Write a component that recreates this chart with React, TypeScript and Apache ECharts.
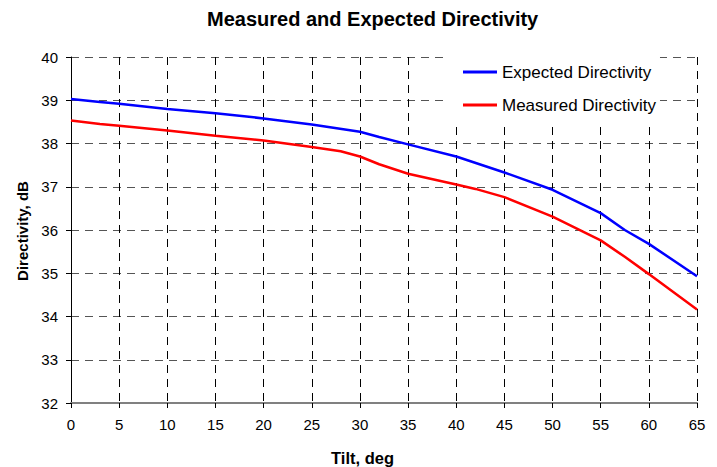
import React, { useEffect, useRef } from "react";
import * as echarts from "echarts";

const titleText = "Measured and Expected Directivity";
const xName = "Tilt, deg";
const yName = "Directivity, dB";

const expectedTilt = [0, 3, 5, 10, 15, 20, 25, 30, 32, 35, 40, 45, 50, 55, 57.5, 60, 65];
const expectedDir = [39.03, 38.96, 38.92, 38.8, 38.7, 38.58, 38.44, 38.27, 38.15, 37.98, 37.7, 37.33, 36.93, 36.39, 36.0, 35.68, 34.93];

const measuredTilt = [0, 3, 5, 10, 15, 20, 25, 28, 30, 32, 35, 40, 42, 45, 50, 55, 57.5, 60, 65];
const measuredDir = [38.53, 38.45, 38.41, 38.3, 38.18, 38.07, 37.92, 37.82, 37.7, 37.52, 37.3, 37.05, 36.95, 36.76, 36.31, 35.76, 35.38, 34.98, 34.16];

const FONT = "'Liberation Sans', Arial, sans-serif";

export default function App() {
  const ref = useRef<HTMLDivElement>(null);
  useEffect(() => {
    if (!ref.current) return;
    const chart = echarts.init(ref.current, null, { renderer: "svg" });
    chart.setOption({
      animation: false,
      backgroundColor: "#ffffff",
      textStyle: { fontFamily: FONT },
      grid: { left: 71, right: 20, top: 57, bottom: 64, containLabel: false },
      graphic: [
        {
          type: "text",
          left: 373 - 166,
          top: 9,
          style: { text: titleText, fontSize: 20, fontWeight: "bold", fill: "#000", fontFamily: FONT },
        },
        {
          type: "text",
          x: 362.5,
          y: 458,
          style: { text: xName, fontSize: 16.5, fontWeight: "bold", fill: "#000", fontFamily: FONT, align: "center", verticalAlign: "middle" },
        },
        {
          type: "text",
          x: 22.5,
          y: 231,
          rotation: Math.PI / 2,
          style: { text: yName, fontSize: 15, fontWeight: "bold", fill: "#000", fontFamily: FONT, align: "center", verticalAlign: "middle" },
        },
      ],
      legend: {
        orient: "vertical",
        left: 447,
        top: 57,
        padding: [5, 4, 8, 16],
        backgroundColor: "#ffffff",
        icon: "rect",
        itemWidth: 34,
        itemHeight: 3,
        itemGap: 13,
        textStyle: { fontSize: 17, color: "#000", fontFamily: FONT, lineHeight: 20 },
        data: ["Expected Directivity", "Measured Directivity"],
      },
      xAxis: {
        type: "value",
        min: 0,
        max: 65,
        interval: 5,
        axisLine: { show: true, onZero: false, lineStyle: { color: "#808080", width: 2 } },
        axisTick: { show: true, length: 5, lineStyle: { color: "#000" } },
        axisLabel: { fontSize: 15, color: "#000", margin: 14, fontFamily: FONT },
        splitLine: { show: true, lineStyle: { color: "#000", type: [8, 6], width: 1 } },
      },
      yAxis: {
        type: "value",
        min: 32,
        max: 40,
        interval: 1,
        axisLine: { show: true, lineStyle: { color: "#000", width: 1 } },
        axisTick: { show: true, length: 5, lineStyle: { color: "#000" } },
        axisLabel: { fontSize: 15, color: "#000", margin: 13, fontFamily: FONT },
        splitLine: { show: true, lineStyle: { color: "#555", type: [8, 6], width: 1 } },
      },
      series: [
        {
          name: "Expected Directivity",
          type: "line",
          data: expectedTilt.map((t, i) => [t, expectedDir[i]]),
          symbol: "none",
          lineStyle: { color: "#0000ff", width: 2.5 },
          itemStyle: { color: "#0000ff" },
        },
        {
          name: "Measured Directivity",
          type: "line",
          data: measuredTilt.map((t, i) => [t, measuredDir[i]]),
          symbol: "none",
          lineStyle: { color: "#ff0000", width: 2.5 },
          itemStyle: { color: "#ff0000" },
        },
      ],
    });
    return () => chart.dispose();
  }, []);
  return (
    <div
      ref={ref}
      style={{ position: "fixed", left: 0, top: 0, width: 717, height: 467, background: "#fff" }}
    />
  );
}
